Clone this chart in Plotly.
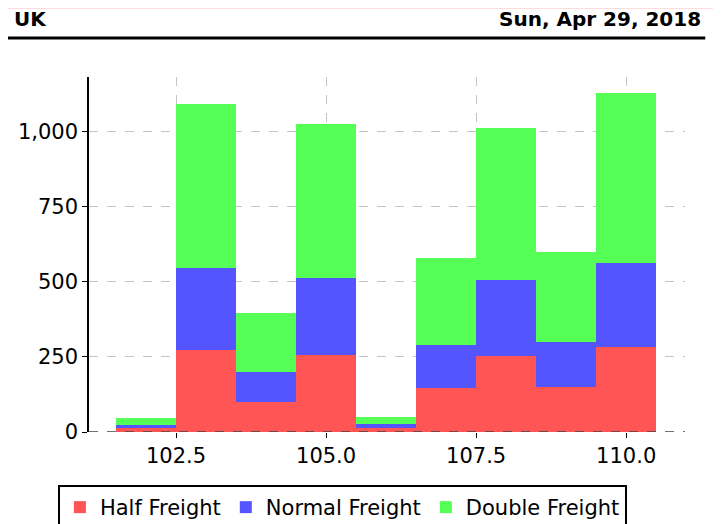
import plotly.graph_objects as go

# bin centres (bins are 1 unit wide)
bins = [102, 103, 104, 105, 106, 107, 108, 109, 110]
half_freight = [12, 272, 99, 256, 12, 146, 252, 150, 282]
normal_freight = [11, 274, 100, 256, 13, 143, 254, 149, 280]
double_freight = [23, 543, 197, 513, 24, 290, 503, 300, 564]

series = [
    ("Half Freight", half_freight, "#ff5555"),
    ("Normal Freight", normal_freight, "#5555ff"),
    ("Double Freight", double_freight, "#55ff55"),
]

font = "DejaVu Sans"

fig = go.Figure()
for name, vals, color in series:
    fig.add_trace(go.Bar(
        x=bins,
        y=vals,
        name=name,
        width=1,
        marker=dict(color=color, line=dict(width=0)),
    ))

# the page body adds an 8px offset, so the figure is sized/offset to compensate
fig.update_layout(
    width=713,
    height=516,
    margin=dict(l=81, r=36, t=69, b=92, autoexpand=False),
    barmode="stack",
    bargap=0,
    plot_bgcolor="white",
    paper_bgcolor="white",
    font=dict(family=font, size=21, color="black"),
    showlegend=True,
    legend=dict(
        orientation="h",
        xref="container", yref="container",
        x=0.469, xanchor="center",
        y=0.0756, yanchor="top",
        bordercolor="black",
        borderwidth=2,
        font=dict(family=font, size=21),
        traceorder="normal",
    ),
    xaxis=dict(
        range=[101.05, 110.98],
        tickvals=[102.5, 105.0, 107.5, 110.0],
        tickformat=".1f",
        automargin=False,
        showgrid=True,
        gridcolor="#c4c4c4",
        griddash="dash",
        gridwidth=1,
        zeroline=False,
        showline=False,
        ticks="outside",
        ticklen=5,
        tickcolor="black",
        tickfont=dict(family=font, size=21),
    ),
    yaxis=dict(
        range=[0, 1180],
        tickvals=[0, 250, 500, 750, 1000],
        tickformat=",",
        automargin=False,
        showgrid=True,
        gridcolor="#c4c4c4",
        griddash="dash",
        gridwidth=1,
        zeroline=False,
        showline=True,
        linecolor="black",
        linewidth=1.5,
        ticks="outside",
        ticklen=5,
        tickcolor="black",
        tickfont=dict(family=font, size=21),
    ),
)

# darker dashed baseline at y = 0
fig.add_shape(type="line", xref="paper", yref="y", x0=0, x1=1, y0=0, y1=0,
              line=dict(color="#444444", width=1.5, dash="dash"), layer="above")

# header: light top rule, titles, black underline
fig.add_shape(type="line", xref="paper", yref="paper", x0=-0.15, x1=1.06,
              y0=1.196, y1=1.196, line=dict(color="#ffdcdc", width=3))
fig.add_shape(type="line", xref="paper", yref="paper", x0=-0.15, x1=1.034,
              y0=1.110, y1=1.110, line=dict(color="black", width=3))
fig.add_annotation(text="<b>UK</b>", xref="paper", yref="paper", x=-0.129, y=1.162,
                   xanchor="left", yanchor="middle", showarrow=False,
                   font=dict(family=font, size=20, color="black"))
fig.add_annotation(text="<b>Sun, Apr 29, 2018</b>", xref="paper", yref="paper",
                   x=1.030, y=1.162, xanchor="right", yanchor="middle", showarrow=False,
                   font=dict(family=font, size=20, color="black"))

fig.write_html("out.html")
